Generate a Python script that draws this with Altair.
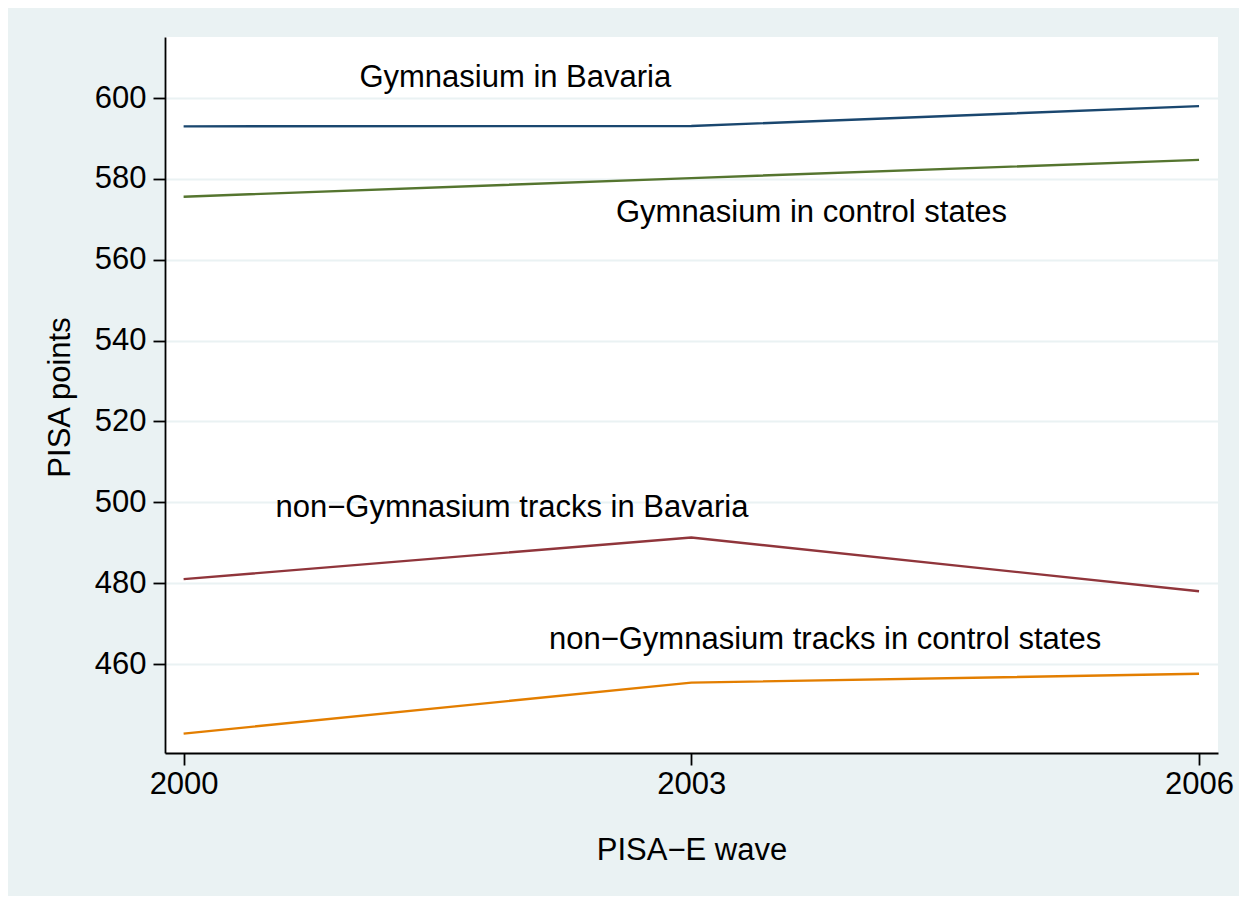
import altair as alt
import pandas as pd

years = [2000, 2003, 2006]
series_names = [
    "Gymnasium in Bavaria",
    "Gymnasium in control states",
    "non−Gymnasium tracks in Bavaria",
    "non−Gymnasium tracks in control states",
]
gym_bavaria = [593.0, 593.1, 598.0]
gym_control = [575.6, 580.2, 584.7]
nongym_bavaria = [481.0, 491.3, 478.0]
nongym_control = [442.8, 455.4, 457.6]
colors = ["#1a476f", "#55752f", "#90353b", "#e37e00"]

label_x = [2001.96, 2003.71, 2001.94, 2003.79]
label_y = [605.0, 571.6, 498.7, 466.0]

y_ticks = [460, 480, 500, 520, 540, 560, 580, 600]
x_ticks = [2000, 2003, 2006]

rows = []
for name, vals in zip(series_names, [gym_bavaria, gym_control, nongym_bavaria, nongym_control]):
    for yr, v in zip(years, vals):
        rows.append({"series": name, "year": yr, "points": v})
df = pd.DataFrame(rows)
labels = pd.DataFrame({"series": series_names, "year": label_x, "points": label_y})

FONT = "Liberation Sans"

xs = alt.Scale(domain=[1999.89, 2006.112], nice=False, zero=False)
ys = alt.Scale(domain=[438.0, 615.1], nice=False, zero=False)

lines = alt.Chart(df).mark_line(strokeWidth=2.4).encode(
    x=alt.X("year:Q", scale=xs,
            axis=alt.Axis(values=x_ticks, format="d", title="PISA−E wave",
                          grid=False, tickSize=12, labelPadding=4,
                          titleY=97, titleBaseline="middle")),
    y=alt.Y("points:Q", scale=ys,
            axis=alt.Axis(values=y_ticks, format="d", title="PISA points",
                          grid=True, tickSize=12, labelPadding=7,
                          titleX=-105, titleY=360, titleAlign="center",
                          titleBaseline="middle", titleAngle=270)),
    color=alt.Color("series:N", scale=alt.Scale(domain=series_names, range=colors), legend=None),
    detail="series:N",
)

texts = alt.Chart(labels).mark_text(font=FONT, fontSize=31, color="black",
                                    align="center", baseline="middle").encode(
    x=alt.X("year:Q", scale=xs),
    y=alt.Y("points:Q", scale=ys),
    text="series:N",
)

chart = (lines + texts).properties(
    width=1053, height=716,
    background="#eaf2f3",
    padding={"left": 157, "top": 29, "right": 21, "bottom": 143},
    autosize=alt.AutoSizeParams(type="none"),
).configure_view(
    fill="white", stroke=None
).configure_axis(
    domainColor="black", domainWidth=1.8, tickColor="black", tickWidth=1.8,
    gridColor="#eaf2f3", gridWidth=2,
    labelFont=FONT, labelFontSize=31, labelColor="black",
    titleFont=FONT, titleFontSize=31, titleColor="black", titleFontWeight="normal",
)

chart.save("out.html", embed_options={"renderer": "svg", "actions": False})
